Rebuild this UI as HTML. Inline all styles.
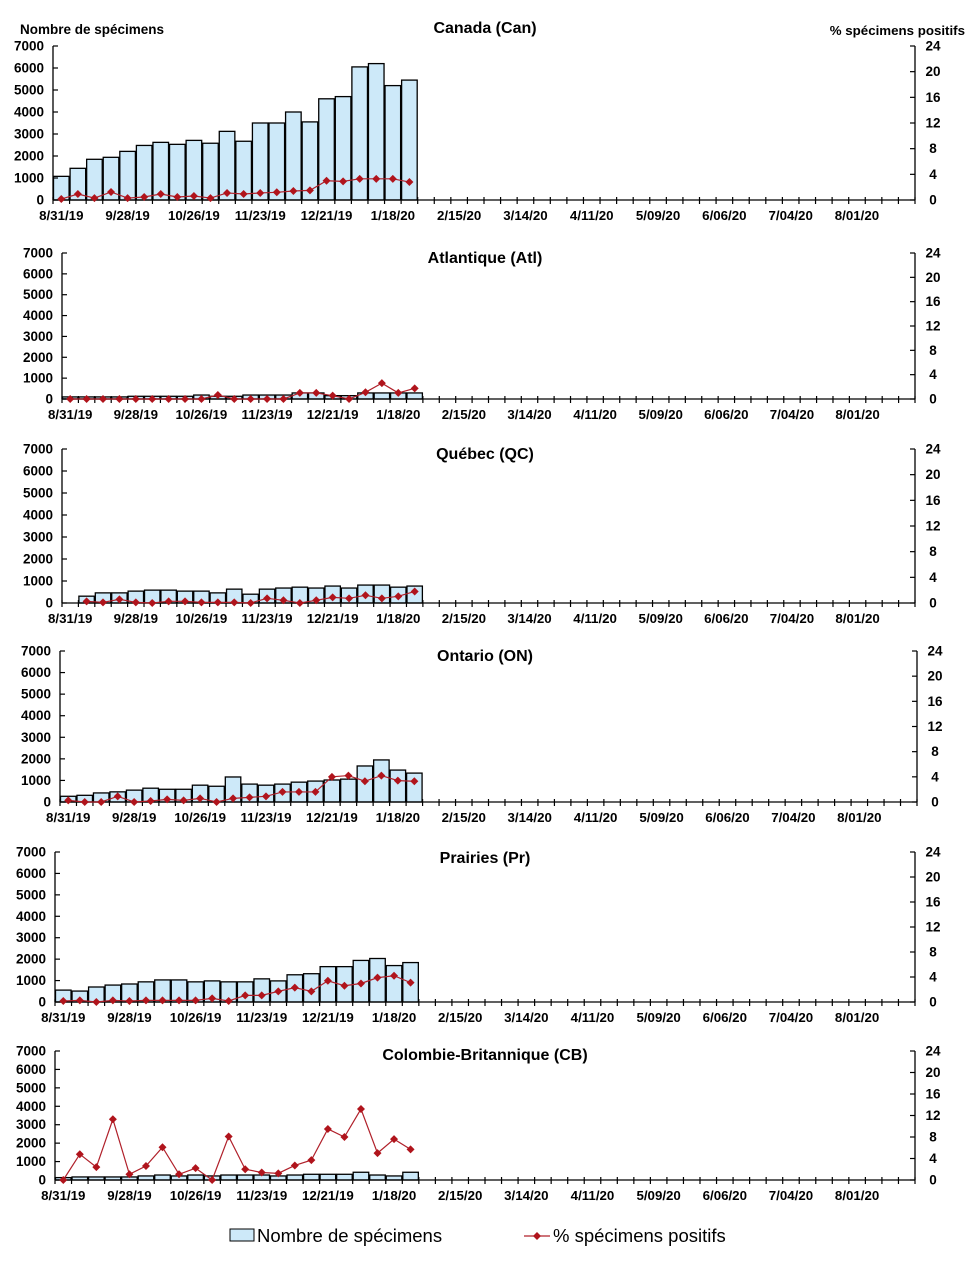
<!DOCTYPE html>
<html><head><meta charset="utf-8">
<style>
body{margin:0;background:#fff;width:971px;height:1258px;overflow:hidden;font-family:"Liberation Sans",Arial,sans-serif;}
svg text{font-family:"Liberation Sans",Arial,sans-serif;}
</style></head>
<body>
<svg id="chart" width="971" height="1258" viewBox="0 0 971 1258" xmlns="http://www.w3.org/2000/svg">
<text x="20" y="34" font-size="13.5" font-weight="bold">Nombre de spécimens</text>
<text x="965" y="35" font-size="13.3" font-weight="bold" text-anchor="end">% spécimens positifs</text>
<g>
<rect x="230" y="1229" width="24" height="12" fill="#cde9f9" stroke="#000" stroke-width="1"/>
<text x="257" y="1242" font-size="18.5">Nombre de spécimens</text>
<line x1="524" y1="1236" x2="550" y2="1236" stroke="#b0202a" stroke-width="1.2"/>
<path d="M537 1232 L541 1236 L537 1240 L533 1236 Z" fill="#b0141c"/>
<text x="553" y="1242" font-size="18.5">% spécimens positifs</text>
</g>
</svg>
<script>
const xLabels = ["8/31/19","9/28/19","10/26/19","11/23/19","12/21/19","1/18/20","2/15/20","3/14/20","4/11/20","5/09/20","6/06/20","7/04/20","8/01/20"];
const leftTicks = [0,1000,2000,3000,4000,5000,6000,7000];
const rightTicks = [0,4,8,12,16,20,24];
const panelTitles = ["Canada (Can)","Atlantique (Atl)","Québec (QC)","Ontario (ON)","Prairies (Pr)","Colombie-Britannique (CB)"];
const canBars = [1075,1440,1850,1940,2210,2480,2620,2530,2710,2580,3120,2670,3500,3500,4000,3550,4600,4700,6050,6200,5200,5450];
const canPct = [0.15,0.93,0.3,1.25,0.3,0.47,0.93,0.47,0.62,0.3,1.1,0.93,1.1,1.2,1.4,1.5,3.0,2.9,3.3,3.3,3.3,2.8];
const atlBars = [100,100,100,100,130,130,130,130,190,130,130,190,190,190,290,290,160,160,290,290,290,290];
const atlPct = [0,0,0,0,0,0,0,0,0,0.65,0,0,0,0,1.0,1.0,0.55,0,1.1,2.6,1.0,1.75];
const qcBars = [null,310,460,460,540,585,585,540,540,460,630,400,630,680,720,680,770,680,815,815,720,770];
const qcPct = [null,0.26,0.1,0.57,0.1,0,0.26,0.26,0.1,0.1,0.1,0,0.73,0.42,0,0.42,0.88,0.73,1.2,0.73,1.04,1.8];
const onBars = [265,310,420,470,550,640,590,590,780,730,1160,830,780,830,920,970,1020,1060,1670,1950,1480,1340];
const onPct = [0.26,0,0,0.9,0,0.16,0.42,0.26,0.58,0,0.58,0.74,0.9,1.6,1.6,1.6,4.0,4.2,3.3,4.2,3.4,3.3];
const prBars = [555,510,700,790,840,940,1030,1030,940,985,940,940,1080,985,1270,1320,1650,1650,1940,2030,1700,1840];
const prPct = [0.16,0.26,0,0.26,0.16,0.26,0.26,0.26,0.26,0.58,0.16,1.06,1.06,1.7,2.3,1.7,3.4,2.6,2.96,3.9,4.2,3.1];
const cbBars = [130,165,165,165,165,220,270,220,270,220,270,270,270,220,270,310,310,310,420,270,220,420];
const cbPct = [0,4.8,2.4,11.3,1.06,2.6,6.1,1.06,2.2,0,8.1,2.0,1.4,1.24,2.7,3.7,9.5,8.0,13.2,5.0,7.6,5.7];

const NS="http://www.w3.org/2000/svg";
const svg=document.getElementById('chart');
function mk(tag,attrs,parent){const e=document.createElementNS(NS,tag);for(const k in attrs)e.setAttribute(k,attrs[k]);(parent||svg).appendChild(e);return e;}
const geo=[
 {l:53,r:915,y0:200,yt:46,ty:33},
 {l:62,r:915,y0:399,yt:253,ty:263},
 {l:62,r:915,y0:603,yt:449,ty:459},
 {l:60,r:917,y0:802,yt:651,ty:661},
 {l:55,r:915,y0:1002,yt:852,ty:863},
 {l:55,r:915,y0:1180,yt:1051,ty:1060}
];
const barsData=[canBars,atlBars,qcBars,onBars,prBars,cbBars];
const pctData=[canPct,atlPct,qcPct,onPct,prPct,cbPct];
const N=52;
geo.forEach((g,p)=>{
  const grp=mk('g',{});
  
  
  const w=(g.r-g.l)/N;
  const xC=i=>g.l+w*(i+0.5);
  const yL=v=>g.y0-(v/7000)*(g.y0-g.yt);
  const yR=v=>g.y0-(v/24)*(g.y0-g.yt);
  const t=mk('text',{x:485,y:g.ty,'font-size':16,'font-weight':'bold','text-anchor':'middle'},grp);
  t.textContent=panelTitles[p];
  
  
  barsData[p].forEach((v,i)=>{
    if(v==null)return;
    const b=mk('rect',{x:g.l+w*i+0.5,y:yL(v),width:w-1,height:g.y0-yL(v),fill:'#cde9f9',stroke:'#000','stroke-width':1.3},grp);
    
    
  });
  mk('line',{x1:g.l,y1:g.yt,x2:g.l,y2:g.y0,stroke:'#000','stroke-width':1.3},grp);
  mk('line',{x1:g.r,y1:g.yt,x2:g.r,y2:g.y0,stroke:'#000','stroke-width':1.3},grp);
  mk('line',{x1:g.l,y1:g.y0,x2:g.r,y2:g.y0,stroke:'#000','stroke-width':1.3},grp);
  for(let i=0;i<=N;i++)mk('line',{x1:g.l+w*i,y1:g.y0-3,x2:g.l+w*i,y2:g.y0+4,stroke:'#000','stroke-width':1.2},grp);
  leftTicks.forEach(v=>{
    mk('line',{x1:g.l,y1:yL(v),x2:g.l+5,y2:yL(v),stroke:'#000','stroke-width':1.2},grp);
    const tx=mk('text',{x:g.l-9,y:yL(v)+4.5,'font-size':13.5,'font-weight':'bold','text-anchor':'end'},grp);
    tx.textContent=v;
    
    
  });
  rightTicks.forEach(v=>{
    mk('line',{x1:g.r-5,y1:yR(v),x2:g.r,y2:yR(v),stroke:'#000','stroke-width':1.2},grp);
    const tx=mk('text',{x:g.r+18,y:yR(v)+4.5,'font-size':13.5,'font-weight':'bold','text-anchor':'middle'},grp);
    tx.textContent=v;
    
    
  });
  xLabels.forEach((s,k)=>{
    const tx=mk('text',{x:xC(k*4),y:g.y0+20,'font-size':13.3,'font-weight':'bold','text-anchor':'middle'},grp);
    tx.textContent=s;
    
    
  });
  const pts=[];
  pctData[p].forEach((v,i)=>{if(v!=null)pts.push([xC(i),yR(v)]);});
  const pl=mk('polyline',{points:pts.map(q=>q.join(',')).join(' '),fill:'none',stroke:'#b0202a','stroke-width':1.2},grp);
  
  
  pts.forEach(q=>{
    const d=mk('path',{d:`M${q[0]} ${q[1]-4} L${q[0]+4} ${q[1]} L${q[0]} ${q[1]+4} L${q[0]-4} ${q[1]} Z`,fill:'#b0141c'},grp);
    
    
  });
});
</script>
</body></html>
